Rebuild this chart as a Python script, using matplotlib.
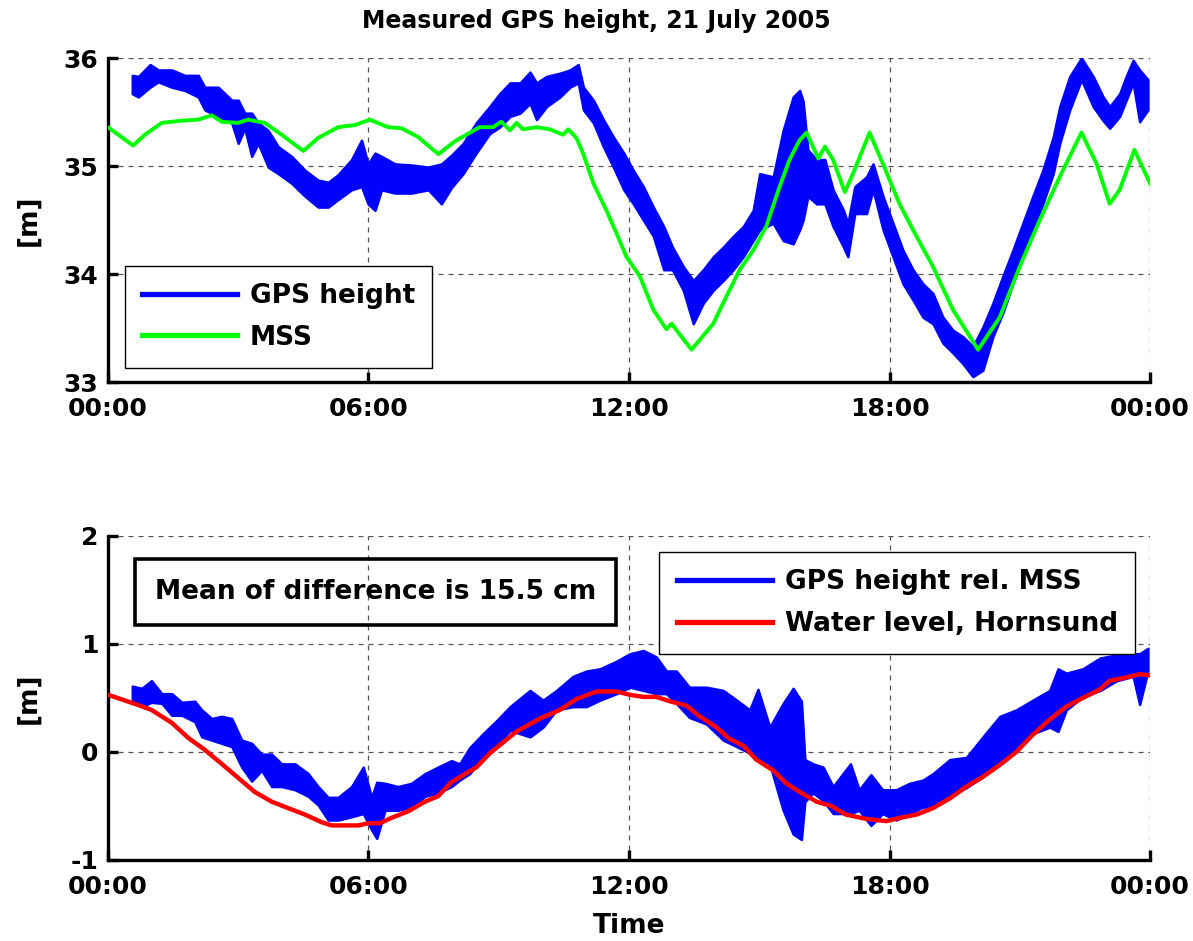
import matplotlib
matplotlib.use("Agg")
import matplotlib.pyplot as plt
from matplotlib.lines import Line2D

plt.rcParams["font.family"] = ["DejaVu Sans"]
plt.rcParams["font.weight"] = "bold"
plt.rcParams["axes.labelweight"] = "bold"
plt.rcParams["axes.titleweight"] = "bold"
plt.rcParams["axes.unicode_minus"] = False

# ── data (hours after 00:00) ───────────────────────────────────────
# top panel: noisy GPS band as lower / upper envelope, MSS line
gps_t = [0.56, 0.70, 0.97, 1.16, 1.47, 1.77, 2.08, 2.23, 2.54, 2.85,
         3.00, 3.15, 3.31, 3.46, 3.69, 3.92, 4.23, 4.54, 4.84, 5.07,
         5.30, 5.61, 5.84, 5.99, 6.15, 6.30, 6.61, 6.99, 7.38, 7.68,
         7.91, 8.18, 8.48, 8.79, 9.02, 9.26, 9.49, 9.72, 9.87, 10.10,
         10.41, 10.64, 10.83, 10.95, 11.18, 11.41, 11.64, 11.88, 12.10, 12.33,
         12.56, 12.80, 13.00, 13.25, 13.48, 13.71, 13.94, 14.17, 14.40, 14.63,
         14.86, 15.01, 15.32, 15.55, 15.78, 15.93, 16.01, 16.12, 16.32, 16.51,
         16.70, 16.94, 17.04, 17.20, 17.47, 17.62, 17.85, 18.08, 18.31, 18.54,
         18.77, 19.00, 19.23, 19.46, 19.69, 19.92, 20.15, 20.38, 20.61, 20.84,
         21.07, 21.30, 21.53, 21.77, 21.92, 22.15, 22.42, 22.69, 22.92, 23.07,
         23.30, 23.45, 23.61, 23.76, 23.95]
gps_hi = [35.84, 35.83, 35.94, 35.89, 35.89, 35.84, 35.84, 35.73, 35.73, 35.61,
          35.61, 35.49, 35.49, 35.40, 35.33, 35.18, 35.09, 34.96, 34.87, 34.85,
          34.92, 35.06, 35.24, 35.02, 35.12, 35.09, 35.02, 35.01, 34.99, 35.02,
          35.10, 35.21, 35.40, 35.55, 35.67, 35.77, 35.77, 35.87, 35.77, 35.83,
          35.86, 35.89, 35.94, 35.73, 35.61, 35.43, 35.27, 35.12, 34.96, 34.81,
          34.62, 34.44, 34.25, 34.07, 33.94, 34.04, 34.16, 34.25, 34.35, 34.44,
          34.59, 34.93, 34.90, 35.33, 35.64, 35.70, 35.60, 35.15, 35.06, 35.06,
          34.78, 34.59, 34.47, 34.81, 34.90, 35.02, 34.72, 34.47, 34.22, 34.04,
          33.91, 33.82, 33.60, 33.48, 33.42, 33.33, 33.51, 33.73, 33.98, 34.22,
          34.47, 34.72, 34.96, 35.27, 35.55, 35.83, 36.00, 35.83, 35.64, 35.55,
          35.67, 35.83, 35.98, 35.89, 35.80]
gps_lo = [35.67, 35.64, 35.73, 35.78, 35.73, 35.70, 35.64, 35.52, 35.46, 35.40,
          35.21, 35.35, 35.09, 35.21, 34.99, 34.93, 34.84, 34.72, 34.62, 34.62,
          34.69, 34.78, 34.81, 34.65, 34.59, 34.78, 34.75, 34.75, 34.78, 34.65,
          34.80, 34.93, 35.12, 35.30, 35.36, 35.46, 35.49, 35.58, 35.43, 35.55,
          35.64, 35.73, 35.77, 35.52, 35.40, 35.18, 34.99, 34.78, 34.65, 34.50,
          34.35, 34.04, 34.04, 33.85, 33.54, 33.73, 33.85, 33.94, 34.04, 34.16,
          34.31, 34.41, 34.47, 34.31, 34.28, 34.41, 34.50, 34.72, 34.65, 34.65,
          34.44, 34.25, 34.16, 34.56, 34.56, 34.78, 34.41, 34.16, 33.91, 33.76,
          33.60, 33.54, 33.36, 33.27, 33.17, 33.05, 33.11, 33.42, 33.64, 33.91,
          34.16, 34.41, 34.65, 34.93, 35.21, 35.52, 35.80, 35.55, 35.42, 35.35,
          35.46, 35.61, 35.77, 35.41, 35.52]

mss_t = [0.00, 0.58, 0.85, 1.24, 1.70, 2.08, 2.39, 2.62, 3.00, 3.23,
         3.61, 4.00, 4.50, 4.84, 5.30, 5.69, 6.03, 6.45, 6.76, 7.14,
         7.61, 7.99, 8.56, 8.87, 9.06, 9.26, 9.41, 9.56, 9.87, 10.18,
         10.48, 10.60, 10.79, 10.94, 11.18, 11.48, 11.71, 11.94, 12.25, 12.56,
         12.86, 12.98, 13.44, 13.94, 14.24, 14.55, 14.86, 15.16, 15.47, 15.70,
         15.93, 16.09, 16.36, 16.51, 16.70, 16.97, 17.16, 17.54, 17.85, 18.23,
         18.54, 19.00, 19.46, 20.04, 20.54, 21.00, 21.46, 21.92, 22.42, 22.77,
         23.07, 23.30, 23.64, 24.00]
mss = [35.36, 35.19, 35.29, 35.40, 35.42, 35.43, 35.47, 35.41, 35.40, 35.43,
       35.40, 35.29, 35.14, 35.26, 35.36, 35.38, 35.43, 35.36, 35.35, 35.27,
       35.11, 35.23, 35.36, 35.36, 35.41, 35.33, 35.40, 35.34, 35.36, 35.34,
       35.29, 35.34, 35.26, 35.12, 34.84, 34.59, 34.38, 34.16, 33.98, 33.67,
       33.49, 33.54, 33.30, 33.54, 33.79, 34.04, 34.22, 34.44, 34.81, 35.06,
       35.24, 35.31, 35.07, 35.18, 35.06, 34.76, 34.93, 35.31, 35.02, 34.65,
       34.41, 34.07, 33.67, 33.30, 33.60, 34.07, 34.50, 34.90, 35.31, 35.02,
       34.65, 34.78, 35.15, 34.84]

# bottom panel: GPS height relative to MSS (band), water level Hornsund
rel_t = [0.56, 0.78, 1.00, 1.24, 1.47, 1.70, 2.00, 2.16, 2.39, 2.62,
         2.85, 3.08, 3.31, 3.54, 3.77, 4.00, 4.31, 4.61, 4.84, 5.07,
         5.30, 5.61, 5.88, 6.07, 6.19, 6.38, 6.68, 6.99, 7.30, 7.60,
         7.91, 8.10, 8.33, 8.64, 8.95, 9.26, 9.72, 10.02, 10.33, 10.71,
         11.02, 11.33, 11.71, 12.02, 12.33, 12.63, 12.86, 13.09, 13.39, 13.78,
         14.17, 14.48, 14.78, 14.97, 15.24, 15.55, 15.78, 15.97, 16.05, 16.24,
         16.47, 16.70, 17.10, 17.30, 17.57, 17.84, 18.15, 18.46, 18.77, 19.00,
         19.39, 19.77, 20.15, 20.54, 20.92, 21.30, 21.69, 21.88, 22.07, 22.45,
         22.85, 23.23, 23.61, 23.76, 23.95]
rel_hi = [0.61, 0.59, 0.66, 0.54, 0.54, 0.46, 0.47, 0.39, 0.31, 0.33,
          0.31, 0.11, 0.08, -0.02, -0.02, -0.11, -0.11, -0.20, -0.32, -0.42,
          -0.42, -0.32, -0.14, -0.42, -0.28, -0.29, -0.32, -0.29, -0.20, -0.14,
          -0.08, -0.11, 0.04, 0.17, 0.29, 0.42, 0.57, 0.48, 0.57, 0.70,
          0.75, 0.77, 0.84, 0.91, 0.94, 0.88, 0.75, 0.75, 0.60, 0.60,
          0.57, 0.48, 0.39, 0.58, 0.23, 0.45, 0.59, 0.47, -0.07, -0.11,
          -0.14, -0.32, -0.11, -0.35, -0.21, -0.35, -0.35, -0.29, -0.26, -0.20,
          -0.07, -0.05, 0.14, 0.33, 0.39, 0.48, 0.57, 0.77, 0.73, 0.77,
          0.87, 0.90, 0.91, 0.91, 0.96]
rel_lo = [0.48, 0.42, 0.46, 0.45, 0.34, 0.34, 0.28, 0.14, 0.11, 0.08,
          0.05, -0.14, -0.27, -0.17, -0.32, -0.32, -0.35, -0.41, -0.49, -0.63,
          -0.63, -0.60, -0.57, -0.72, -0.80, -0.54, -0.54, -0.51, -0.41, -0.38,
          -0.32, -0.26, -0.20, -0.05, 0.06, 0.20, 0.14, 0.23, 0.39, 0.42,
          0.42, 0.48, 0.54, 0.60, 0.57, 0.54, 0.54, 0.45, 0.32, 0.26,
          0.11, 0.05, -0.01, -0.05, -0.11, -0.54, -0.76, -0.81, -0.46, -0.38,
          -0.45, -0.57, -0.57, -0.54, -0.68, -0.57, -0.63, -0.57, -0.51, -0.51,
          -0.41, -0.33, -0.23, -0.08, 0.01, 0.17, 0.23, 0.19, 0.39, 0.51,
          0.57, 0.66, 0.70, 0.44, 0.75]

wl_t = [0.00, 0.66, 1.00, 1.47, 1.85, 2.23, 2.62, 3.00, 3.38, 3.77,
        4.15, 4.54, 4.92, 5.15, 5.76, 6.00, 6.26, 6.53, 6.91, 7.30,
        7.60, 7.91, 8.49, 8.80, 9.41, 9.95, 10.41, 10.79, 11.25, 11.71,
        12.02, 12.33, 12.63, 12.94, 13.32, 13.63, 14.01, 14.32, 14.63, 14.93,
        15.32, 15.62, 15.93, 16.32, 16.66, 17.00, 17.47, 17.93, 18.23, 18.62,
        19.00, 19.39, 19.77, 20.15, 20.54, 20.92, 21.30, 21.69, 22.07, 22.45,
        22.85, 23.07, 23.45, 23.76, 24.00]
wl = [0.53, 0.44, 0.39, 0.27, 0.13, 0.02, -0.11, -0.24, -0.37, -0.46,
      -0.52, -0.58, -0.65, -0.68, -0.68, -0.66, -0.66, -0.61, -0.55, -0.46,
      -0.41, -0.28, -0.14, -0.01, 0.19, 0.31, 0.39, 0.49, 0.56, 0.56,
      0.53, 0.51, 0.51, 0.47, 0.43, 0.33, 0.23, 0.12, 0.06, -0.07,
      -0.17, -0.29, -0.37, -0.46, -0.50, -0.58, -0.62, -0.64, -0.61, -0.58,
      -0.52, -0.43, -0.32, -0.23, -0.12, 0.00, 0.16, 0.30, 0.42, 0.50,
      0.58, 0.66, 0.69, 0.72, 0.71]

hour_ticks = [0, 6, 12, 18, 24]
hour_labels = ["00:00", "06:00", "12:00", "18:00", "00:00"]

BLUE, GREEN, RED = "#0000ff", "#00ff00", "#ff0000"
FS = 18


def style_axes(ax, yticks):
    ax.set_xlim(0, 24)
    ax.set_xticks(hour_ticks, hour_labels)
    ax.set_yticks(yticks)
    ax.set_ylim(yticks[0], yticks[-1])
    for side in ("top", "right"):
        ax.spines[side].set_visible(False)
    for side in ("left", "bottom"):
        ax.spines[side].set_linewidth(2.4)
    ax.tick_params(direction="in", length=7, width=2.4, labelsize=FS)
    ax.tick_params(axis="x", pad=11)
    ax.tick_params(axis="y", pad=7)
    ax.grid(True, color="#555555", lw=0.9, ls=(0, (4, 4)))
    ax.set_axisbelow(True)
    ax.set_ylabel("[m]", fontsize=FS + 1)
    ax.yaxis.set_label_coords(-0.064, 0.5)


def make_legend(ax, handles, labels, **kw):
    leg = ax.legend(handles, labels, fontsize=FS + 1, fancybox=False,
                    framealpha=1, edgecolor="black", handlelength=3.6,
                    handletextpad=0.5, borderpad=0.65, labelspacing=0.6,
                    borderaxespad=0, **kw)
    leg.get_frame().set_linewidth(1.0)
    return leg


fig = plt.figure(figsize=(11.93, 9.41), dpi=100)
ax1 = fig.add_axes([0.0905, 0.594, 0.8735, 0.3443])
ax2 = fig.add_axes([0.0905, 0.0861, 0.8735, 0.3443])

# ── top: measured GPS height ────────────────────────────────────
ax1.fill_between(gps_t, gps_lo, gps_hi, color=BLUE, ec=BLUE, lw=1.8, zorder=2)
ax1.plot(mss_t, mss, color=GREEN, lw=2.8, zorder=3)
style_axes(ax1, [33, 34, 35, 36])
ax1.set_title("Measured GPS height, 21 July 2005", fontsize=17, pad=22, x=0.469)
make_legend(ax1, [Line2D([], [], color=BLUE, lw=3.8), Line2D([], [], color=GREEN, lw=3.8)],
            ["GPS height", "MSS"], loc="lower left", bbox_to_anchor=(0.0161, 0.044))

# ── bottom: GPS height relative to MSS vs water level ───────────
ax2.fill_between(rel_t, rel_lo, rel_hi, color=BLUE, ec=BLUE, lw=1.8, zorder=2)
ax2.plot(wl_t, wl, color=RED, lw=3.2, zorder=3)
style_axes(ax2, [-1, 0, 1, 2])
ax2.set_xlabel("Time", fontsize=FS + 1)
ax2.xaxis.set_label_coords(0.5, -0.165)
make_legend(ax2, [Line2D([], [], color=BLUE, lw=3.8), Line2D([], [], color=RED, lw=3.8)],
            ["GPS height rel. MSS", "Water level, Hornsund"], loc="upper right",
            bbox_to_anchor=(0.9856, 0.9506))
ax2.text(0.257, 0.827, "Mean of difference is 15.5 cm", transform=ax2.transAxes,
         ha="center", va="center", fontsize=FS + 1, zorder=1,
         bbox=dict(boxstyle="square,pad=0.75", fc="none", ec="black", lw=2.6))

fig.savefig("out.png", dpi=100)
